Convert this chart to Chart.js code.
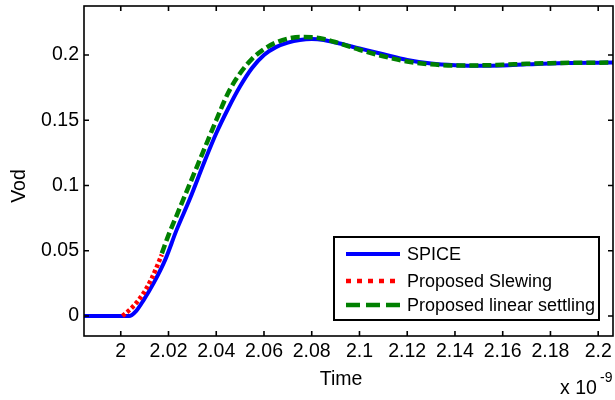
<!DOCTYPE html>
<html>
<head>
<meta charset="utf-8">
<script src="https://cdn.jsdelivr.net/npm/chart.js@4"></script>
<style>
  html, body { margin: 0; padding: 0; background: #fff; }
  #wrap { width: 615px; height: 400px; }
</style>
</head>
<body>
<div id="wrap"><canvas id="vodChart" width="615" height="400"></canvas></div>
<script>
// ---------- data (time in units of 1e-9 s) ---------- //
const xTicks = [2, 2.02, 2.04, 2.06, 2.08, 2.1, 2.12, 2.14, 2.16, 2.18, 2.2];
const yTicks = [0, 0.05, 0.1, 0.15, 0.2];

const spiceTime = [1.98, 2.0035, 2.0065, 2.0095, 2.014, 2.0186, 2.0234, 2.029, 2.035, 2.04, 2.045, 2.05, 2.055, 2.06, 2.065, 2.07, 2.075, 2.08, 2.085, 2.09, 2.1, 2.11, 2.12, 2.13, 2.14, 2.15, 2.16, 2.17, 2.18, 2.19, 2.2, 2.21];
const spiceVod = [0, 0, 0.004, 0.012, 0.026, 0.043, 0.066, 0.090, 0.118, 0.140, 0.159, 0.176, 0.190, 0.200, 0.206, 0.2095, 0.2115, 0.2122, 0.2115, 0.2095, 0.2050, 0.2005, 0.1962, 0.1935, 0.1922, 0.1917, 0.1920, 0.1928, 0.1935, 0.1938, 0.1940, 0.1942];

const slewTime = [2.0007, 2.005, 2.0095, 2.013, 2.0172];
const slewVod = [0, 0.007, 0.0174, 0.029, 0.047];

const settleTime = [2.0172, 2.02, 2.0234, 2.03, 2.035, 2.04, 2.045, 2.05, 2.055, 2.06, 2.065, 2.07, 2.075, 2.08, 2.085, 2.09, 2.1, 2.11, 2.12, 2.13, 2.14, 2.15, 2.16, 2.17, 2.18, 2.19, 2.2, 2.21];
const settleVod = [0.048, 0.062, 0.077, 0.106, 0.128, 0.150, 0.171, 0.186, 0.197, 0.2045, 0.2095, 0.2125, 0.2137, 0.2135, 0.2122, 0.2098, 0.2040, 0.1990, 0.1950, 0.1928, 0.1920, 0.1920, 0.1925, 0.1932, 0.1937, 0.1940, 0.1941, 0.1942];

const xMin = 1.9846;
const xMax = 2.2062;
const yMin = -0.0153;
const yMax = 0.2375;

const FONT = '"Liberation Sans", Arial, Helvetica, sans-serif';

function toPoints(xs, ys) {
  return xs.map((x, i) => ({ x: x, y: ys[i] }));
}

// ---------- MATLAB style box, inward ticks, labels, legend ---------- //
const matlabFrame = {
  id: "matlabFrame",
  afterDraw(chart) {
    const ctx = chart.ctx;
    const a = chart.chartArea;
    const xs = chart.scales.x;
    const ys = chart.scales.y;
    ctx.save();
    ctx.strokeStyle = "#000";
    ctx.lineWidth = 1.6;
    ctx.setLineDash([]);
    ctx.strokeRect(a.left, a.top, a.right - a.left, a.bottom - a.top);

    // inward ticks on all four sides
    const tl = 5;
    ctx.beginPath();
    xTicks.forEach((v) => {
      const px = xs.getPixelForValue(v);
      ctx.moveTo(px, a.bottom);
      ctx.lineTo(px, a.bottom - tl);
      ctx.moveTo(px, a.top);
      ctx.lineTo(px, a.top + tl);
    });
    yTicks.forEach((v) => {
      const py = ys.getPixelForValue(v);
      ctx.moveTo(a.left, py);
      ctx.lineTo(a.left + tl, py);
      ctx.moveTo(a.right, py);
      ctx.lineTo(a.right - tl, py);
    });
    ctx.stroke();

    // axis labels
    ctx.fillStyle = "#000";
    ctx.font = "19.5px " + FONT;
    ctx.textAlign = "center";
    ctx.textBaseline = "alphabetic";
    ctx.fillText("Time", 341, 385);
    ctx.save();
    ctx.translate(25, 186);
    ctx.rotate(-Math.PI / 2);
    ctx.fillText("Vod", 0, 0);
    ctx.restore();

    ctx.textAlign = "left";
    ctx.fillText("x 10", 560, 394);
    ctx.font = "14px " + FONT;
    ctx.fillText("-9", 600, 382);

    // legend
    const lx = 334, ly = 237, lw = 265, lh = 83;
    ctx.fillStyle = "#fff";
    ctx.fillRect(lx, ly, lw, lh);
    ctx.lineWidth = 2;
    ctx.strokeStyle = "#000";
    ctx.strokeRect(lx, ly, lw, lh);
    const rowsY = [254, 281, 305];
    ctx.font = "18px " + FONT;
    ctx.textBaseline = "middle";
    chart.data.datasets.forEach((ds, i) => {
      const y = rowsY[i];
      ctx.beginPath();
      ctx.strokeStyle = ds.borderColor;
      ctx.lineWidth = ds.borderWidth;
      ctx.setLineDash(ds.legendDash || []);
      ctx.moveTo(346, y);
      ctx.lineTo(400, y);
      ctx.stroke();
      ctx.setLineDash([]);
      ctx.fillStyle = "#000";
      ctx.fillText(ds.label, 407, y + 1);
    });
    ctx.restore();
  },
};

const tickFont = { family: FONT, size: 19.5 };

new Chart(document.getElementById("vodChart"), {
  type: "line",
  data: {
    datasets: [
      {
        label: "SPICE",
        data: toPoints(spiceTime, spiceVod),
        borderColor: "#0000ff",
        borderWidth: 4,
        pointRadius: 0,
        cubicInterpolationMode: "monotone",
        order: 3,
      },
      {
        label: "Proposed Slewing",
        data: toPoints(slewTime, slewVod),
        borderColor: "#ff0000",
        borderWidth: 4.5,
        borderDash: [3.5, 2.5],
        legendDash: [5, 6],
        pointRadius: 0,
        cubicInterpolationMode: "monotone",
        order: 1,
      },
      {
        label: "Proposed linear settling",
        data: toPoints(settleTime, settleVod),
        borderColor: "#008000",
        borderWidth: 4.5,
        borderDash: [9, 4],
        legendDash: [14, 6],
        pointRadius: 0,
        cubicInterpolationMode: "monotone",
        order: 2,
      },
    ],
  },
  options: {
    responsive: false,
    animation: false,
    devicePixelRatio: 1,
    layout: { padding: { left: 0, top: 6, right: 2, bottom: 0 } },
    plugins: {
      legend: { display: false },
      title: { display: false },
      tooltip: { enabled: false },
    },
    scales: {
      x: {
        type: "linear",
        min: xMin,
        max: xMax,
        afterBuildTicks: (axis) => {
          axis.ticks = xTicks.map((v) => ({ value: v }));
        },
        afterFit: (scale) => {
          scale.height = 64;
          scale.paddingLeft = 0;
          scale.paddingRight = 0;
        },
        grid: { display: false, drawTicks: false },
        border: { display: false },
        ticks: {
          padding: 4,
          color: "#000",
          font: tickFont,
          maxRotation: 0,
          autoSkip: false,
          callback: (v) => String(v),
        },
      },
      y: {
        type: "linear",
        min: yMin,
        max: yMax,
        afterBuildTicks: (axis) => {
          axis.ticks = yTicks.map((v) => ({ value: v }));
        },
        afterFit: (scale) => {
          scale.width = 84;
          scale.paddingTop = 0;
          scale.paddingBottom = 0;
        },
        grid: { display: false, drawTicks: false },
        border: { display: false },
        ticks: {
          padding: 5,
          color: "#000",
          font: tickFont,
          autoSkip: false,
          callback: (v) => String(v),
        },
      },
    },
  },
  plugins: [matlabFrame],
});
</script>
</body>
</html>
